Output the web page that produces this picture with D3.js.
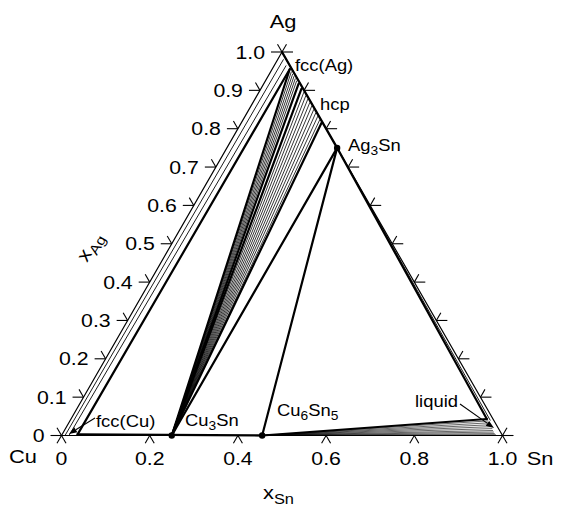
<!DOCTYPE html>
<html>
<head>
<meta charset="utf-8">
<script src="https://cdn.jsdelivr.net/npm/d3@7"></script>
<style>
  body { margin: 0; background: #fff; }
  svg { display: block; }
  text { font-family: "Liberation Sans", Arial, sans-serif; fill: #000; }
</style>
</head>
<body>
<svg id="chart" width="561" height="511"></svg>
<script>
// ---- axis ticks (mole fractions) ----
const sideTicks = [0, 0.1, 0.2, 0.3, 0.4, 0.5, 0.6, 0.7, 0.8, 0.9, 1.0];
const sideTickLabels = ["0", "0.1", "0.2", "0.3", "0.4", "0.5", "0.6", "0.7", "0.8", "0.9", "1.0"];
const baseTicks = [0, 0.2, 0.4, 0.6, 0.8, 1.0];
const baseTickLabels = ["0", "0.2", "0.4", "0.6", "0.8", "1.0"];
const cornerNames = ["Cu", "Sn", "Ag"];

// ---- stoichiometric compounds: [xSn, xAg] ----
const compoundSn = [0.25, 0.455, 0.25];
const compoundAg = [0, 0, 0.75];

// ---- three-phase corners: [xSn, xAg] ----
const fccCuCorner = [0.035, 0.003];
const fccAgCorner = [0.040, 0.955];
const fccAgToHcp = [0.079, 0.917];
const hcpFromFccAg = [0.092, 0.904];
const hcpToAg3Sn = [0.182, 0.815];
const liquidCorner = [0.943, 0.043];

// ---- fcc(Cu) + fcc(Ag) tie lines: [xSn(Cu side), xAg(Cu side), xSn(Ag side), xAg(Ag side)] ----
const fccTieLines = [
  [0.008, 0, 0.013, 0.980],
  [0.017, 0, 0.027, 0.964]
];

// ---- Cu3Sn + fcc(Ag) tie-line ends on the fcc(Ag) solvus (xAg) ----
const fccAgFanAg = [0.948, 0.942, 0.936, 0.930, 0.924];
// ---- Cu3Sn + hcp tie-line ends on the hcp boundary (xAg) ----
const hcpFanAg = [0.895, 0.886, 0.877, 0.868, 0.859, 0.850, 0.841, 0.832, 0.823];
// ---- Cu6Sn5 + liquid tie-line ends on the liquidus: [xSn, xAg] ----
const liquidFanEnds = [
  [0.948, 0.038], [0.953, 0.033], [0.958, 0.028], [0.963, 0.023],
  [0.967, 0.018], [0.971, 0.013], [0.975, 0.009], [0.979, 0.005], [0.983, 0.002]
];
// ---- Ag3Sn + liquid tie-line ends ----
const ag3snLiquidEnds = [[0.952, 0.040]];

// ---- geometry ----
const svg = d3.select("#chart");
const xScale = d3.scaleLinear().domain([0, 1]).range([61.5, 502.5]);
const yScale = d3.scaleLinear().domain([0, 1]).range([435.5, 52]);
// ternary (xSn, xAg) -> screen
const px = (sn, ag) => xScale(sn + ag / 2);
const py = (sn, ag) => yScale(ag);
const pt = d => [px(d[0], d[1]), py(d[0], d[1])];
const line = d3.line();

function seg(a, b, w) {
  svg.append("path")
    .attr("d", line([pt(a), pt(b)]))
    .attr("stroke", "#000")
    .attr("stroke-width", w)
    .attr("fill", "none")
    .attr("stroke-linecap", "round");
}

const cu3sn = [compoundSn[0], compoundAg[0]];
const cu6sn5 = [compoundSn[1], compoundAg[1]];
const ag3sn = [compoundSn[2], compoundAg[2]];

// ---- triangle edges ----
seg([0, 0], [0, 1], 1.2);            // Cu-Ag
seg([0, 0], [1, 0], 1.2);            // Cu-Sn
seg([0, 1], [1, 0], 1.2);            // Ag-Sn
seg([0, 1], ag3sn, 2.3);             // Ag-Sn boundary down to Ag3Sn
seg(fccCuCorner, cu6sn5, 2.3);       // bottom boundary through Cu3Sn

// ---- axis ticks ----
const tickG = svg.append("g").attr("stroke", "#000").attr("stroke-width", 1.1);
const hLen = 11, dLen = 9;
const c60 = Math.cos(Math.PI / 3), s60 = Math.sin(Math.PI / 3);
function tick(x, y, dx, dy, len) {
  tickG.append("line").attr("x1", x).attr("y1", y)
    .attr("x2", x + dx * len).attr("y2", y + dy * len);
}
// left side (xAg along Cu-Ag)
sideTicks.forEach(v => {
  const x = px(0, v), y = py(0, v);
  tick(x, y, -1, 0, hLen);
  tick(x, y, -c60, -s60, dLen);
});
// right side (xAg along Sn-Ag)
sideTicks.forEach(v => {
  const x = px(1 - v, v), y = py(1 - v, v);
  tick(x, y, 1, 0, hLen);
  tick(x, y, c60, -s60, dLen);
});
// base (xSn along Cu-Sn)
baseTicks.forEach(v => {
  const x = px(v, 0), y = py(v, 0);
  tick(x, y, -c60, s60, dLen);
  tick(x, y, c60, s60, dLen);
});

// ---- phase diagram lines ----
const thick = 2.2, thin = 0.9, tie = 0.8, fine = 0.6;
// fcc(Cu) + fcc(Ag) field
fccTieLines.forEach(t => seg([t[0], t[1]], [t[2], t[3]], thin));
seg(fccCuCorner, fccAgCorner, thick);
// Cu3Sn + fcc(Ag)
seg(cu3sn, fccAgCorner, thick);
fccAgFanAg.forEach(a => seg(cu3sn, [1 - a - 0.005, a], tie));
seg(cu3sn, fccAgToHcp, thick);
// Cu3Sn + hcp
seg(cu3sn, hcpFromFccAg, thick);
hcpFanAg.forEach(a => seg(cu3sn, [1 - a - 0.003, a], tie));
seg(cu3sn, hcpToAg3Sn, thick);
// Cu3Sn + Ag3Sn, Cu6Sn5 + Ag3Sn
seg(cu3sn, ag3sn, thick);
seg(cu6sn5, ag3sn, thick);
// Cu6Sn5 + Ag3Sn + liquid
seg(ag3sn, liquidCorner, thick);
seg(cu6sn5, liquidCorner, thick);
ag3snLiquidEnds.forEach(e => seg(ag3sn, e, thin));
liquidFanEnds.forEach(e => seg(cu6sn5, e, fine));

// ---- compound points ----
svg.selectAll("circle.cmp").data(compoundSn).join("circle")
  .attr("class", "cmp")
  .attr("cx", (d, i) => px(d, compoundAg[i]))
  .attr("cy", (d, i) => py(d, compoundAg[i]))
  .attr("r", 3.2).attr("fill", "#000");

// ---- text helpers ----
const sx = 1.15;
function label(x, y, parts, size, anchor) {
  const t = svg.append("text")
    .attr("transform", `translate(${x},${y}) scale(${sx},1)`)
    .attr("font-size", size)
    .attr("text-anchor", anchor || "start");
  parts.forEach(p => {
    const s = t.append("tspan").text(p.t);
    if (p.sub) s.attr("font-size", size * 0.75).attr("dy", size * 0.28);
    if (p.up) s.attr("dy", -size * 0.28);
  });
  return t;
}

// tick labels
sideTicks.forEach((v, i) => {
  label(px(0, v) - 17, py(0, v) + 6.5, [{ t: sideTickLabels[i] }], 18.5, "end");
});
baseTicks.forEach((v, i) => {
  label(px(v, 0), 465, [{ t: baseTickLabels[i] }], 18.5, "middle");
});

// corner labels
label(23, 463, [{ t: cornerNames[0] }], 19, "middle");
label(540, 465, [{ t: cornerNames[1] }], 19, "middle");
label(283, 28, [{ t: cornerNames[2] }], 19, "middle");

// axis titles
label(263, 499, [{ t: "x" }, { t: "Sn", sub: true }], 19, "start");
svg.append("text")
  .attr("transform", "translate(87,263) rotate(-60) scale(1.15,1)")
  .attr("font-size", 19)
  .call(t => {
    t.append("tspan").text("x");
    t.append("tspan").text("Ag").attr("font-size", 14).attr("dy", 5);
  });

// phase labels
label(295, 71, [{ t: "fcc(Ag)" }], 16);
label(320, 110, [{ t: "hcp" }], 16);
label(348, 151, [{ t: "Ag" }, { t: "3", sub: true }, { t: "Sn", up: true }], 16);
label(185, 426, [{ t: "Cu" }, { t: "3", sub: true }, { t: "Sn", up: true }], 16);
label(277, 416, [{ t: "Cu" }, { t: "6", sub: true }, { t: "Sn", up: true }, { t: "5", sub: true }], 16);
label(96, 427, [{ t: "fcc(Cu)" }], 16);
label(415, 407, [{ t: "liquid" }], 16);

// label pointers
function arrow(x1, y1, x2, y2) {
  const ang = Math.atan2(y2 - y1, x2 - x1);
  const L = 8, W = 3;
  const bx = x2 - L * Math.cos(ang), by = y2 - L * Math.sin(ang);
  svg.append("line").attr("x1", x1).attr("y1", y1).attr("x2", bx).attr("y2", by)
    .attr("stroke", "#000").attr("stroke-width", 1.1);
  svg.append("path")
    .attr("d", line([[x2, y2],
      [bx + W * Math.sin(ang), by - W * Math.cos(ang)],
      [bx - W * Math.sin(ang), by + W * Math.cos(ang)]]) + "Z")
    .attr("fill", "#000");
}
arrow(95, 418, 69, 434);
arrow(460, 404, 494, 428);
</script>
</body>
</html>
